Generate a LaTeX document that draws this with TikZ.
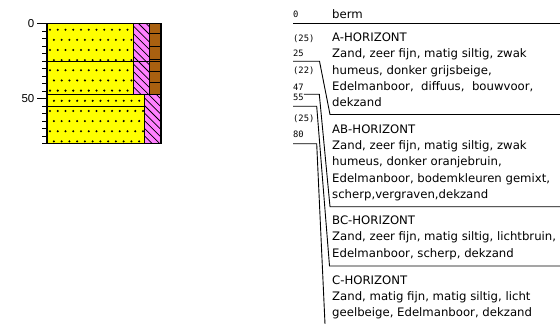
\documentclass[tikz,border=0pt]{standalone}
\usepackage{fontspec}
\newfontfamily\descfont{DejaVu Sans}
\newfontfamily\depthfont{DejaVu Sans Mono}
\newfontfamily\axisfont{Liberation Sans}
\definecolor{sand}{RGB}{255,255,0}
\definecolor{hatchpink}{RGB}{255,128,255}
\definecolor{loam}{RGB}{168,96,16}

\tikzset{
  desc/.style={anchor=base west, inner sep=0pt, font=\descfont\fontsize{11.7}{14}\selectfont},
  depthlabel/.style={anchor=base west, inner sep=0pt, font=\depthfont\fontsize{8.8}{10}\selectfont},
  axislabel/.style={anchor=east, inner sep=0pt, font=\axisfont\fontsize{11.5}{13}\selectfont},
  link/.style={line width=0.9pt, line join=miter},
  layerline/.style={line width=1.3pt},
  thinline/.style={line width=0.9pt},
  tickline/.style={line width=0.8pt},
}

\begin{document}
\begin{tikzpicture}[x=1pt,y=-1pt]
\useasboundingbox (0,0) rectangle (560,324);

% ---------- boring column: fills ----------
\fill[sand] (47,23.7) rectangle (133,94.2);
\fill[sand] (47,94.2) rectangle (144.3,143.7);
\fill[hatchpink] (133,23.7) rectangle (149,94.2);
\fill[hatchpink] (144.3,94.2) rectangle (161,143.7);
\fill[loam] (149,23.7) rectangle (161,94.2);

% sand dots (staggered rows)
\begin{scope}
  \clip (47,23.7) rectangle (133,94.2) (47,94.2) rectangle (144.3,143.7);
  \foreach \r in {0,...,5} {
    \foreach \c in {0,...,12} {
      \fill (50+7.75*\c, 29.7+20.3*\r) circle (1.15);
      \fill (53.9+7.75*\c, 39.85+20.3*\r) circle (1.15);
    }
  }
\end{scope}

% silt hatching
\begin{scope}
  \clip (133,23.7) rectangle (149,94.2) (144.3,94.2) rectangle (161,143.7);
  \foreach \i in {-3,...,20}
    \draw[line width=0.75pt] (125,10+7.6*\i) -- ++(45,45);
\end{scope}

% humus bands
\foreach \yy in {33.3,46.7,59.7,71.7,82.5}
  \draw[line width=0.75pt] (149,\yy) -- (161,\yy);

% column boundaries
\draw[thinline] (133,23.7) -- (133,94.2);
\draw[thinline] (149,23.7) -- (149,94.2);
\draw[thinline] (144.3,94.2) -- (144.3,143.7);
\draw[layerline] (47,61.2) -- (161,61.2);
\draw[layerline] (47,94.2) -- (161,94.2);
\draw[layerline] (47,106.2) -- (144.3,106.2);
\draw[layerline] (47,23.7) rectangle (161,143.7);

% ---------- depth axis ----------
\foreach \d in {5,10,15,20,25,30,35,40,45,55,60,65,70,75,80}
  \draw[tickline] (42,23.7+1.5*\d) -- (47,23.7+1.5*\d);
\draw[tickline] (37,23.7) -- (47,23.7);
\draw[tickline] (37,98.7) -- (47,98.7);
\node[axislabel] (ax0) at (34.5,23.2) {0};
\node[axislabel] (ax50) at (34.5,98.2) {50};

% ---------- depth labels ----------
\node[depthlabel] (l0)   at (293,17.2)  {0};
\node[depthlabel] (t25)  at (293,41.6)  {(25)};
\node[depthlabel] (l25)  at (293,56.2)  {25};
\node[depthlabel] (t22)  at (293,73.2)  {(22)};
\node[depthlabel] (l47)  at (293,90.2)  {47};
\node[depthlabel] (l55)  at (293,100.6) {55};
\node[depthlabel] (t25b) at (293,121.2) {(25)};
\node[depthlabel] (l80)  at (293,137.2) {80};

% ---------- descriptions ----------
\node[desc] (berm) at (332,18.2) {berm};

\node[desc] (ah)  at (332,41.5)  {A-HORIZONT};
\node[desc] (a1)  at (332,57.8)  {Zand, zeer fijn, matig siltig, zwak};
\node[desc] (a2)  at (332,74.1)  {humeus, donker grijsbeige,};
\node[desc] (a3)  at (332,90.4)  {Edelmanboor,\ \ diffuus,\ \ bouwvoor,};
\node[desc] (a4)  at (332,106.7) {dekzand};

\node[desc] (abh) at (332,133.2) {AB-HORIZONT};
\node[desc] (ab1) at (332,149.5) {Zand, zeer fijn, matig siltig, zwak};
\node[desc] (ab2) at (332,165.8) {humeus, donker oranjebruin,};
\node[desc] (ab3) at (332,182.1) {Edelmanboor, bodemkleuren gemixt,};
\node[desc] (ab4) at (332,198.4) {scherp,vergraven,dekzand};

\node[desc] (bch) at (332,224.5) {BC-HORIZONT};
\node[desc] (bc1) at (332,240.8) {Zand, zeer fijn, matig siltig, lichtbruin,};
\node[desc] (bc2) at (332,257.1) {Edelmanboor, scherp, dekzand};

\node[desc] (ch)  at (332,284.2) {C-HORIZONT};
\node[desc] (c1)  at (332,300.5) {Zand, matig fijn, matig siltig, licht};
\node[desc] (c2)  at (332,316.8) {geelbeige, Edelmanboor, dekzand};

% ---------- connectors from depth to description ----------
\coordinate (k0a) at (293,23.7);   \coordinate (k0b) at (560,23.7);
\coordinate (k25a) at (293,61.2);  \coordinate (k25b) at (319.5,61.2);
\coordinate (k25c) at (330,114.5); \coordinate (k25d) at (560,114.5);
\coordinate (k47a) at (303.8,94.2); \coordinate (k47b) at (319.3,94.2);
\coordinate (k47c) at (330,206.7); \coordinate (k47d) at (560,206.7);
\coordinate (k55a) at (293,106.2); \coordinate (k55b) at (316.7,106.2);
\coordinate (k55c) at (329.5,266); \coordinate (k55d) at (560,266);
\coordinate (k80a) at (293,143.7); \coordinate (k80b) at (316.7,143.7);
\coordinate (k80c) at (325,324);

\draw[link] (k0a) -- (k0b);
\draw[link] (k25a) -- (k25b) -- (k25c) -- (k25d);
\draw[link] (k47a) -- (k47b) -- (k47c) -- (k47d);
\draw[link] (k55a) -- (k55b) -- (k55c) -- (k55d);
\draw[link] (k80a) -- (k80b) -- (k80c);
\end{tikzpicture}
\end{document}
